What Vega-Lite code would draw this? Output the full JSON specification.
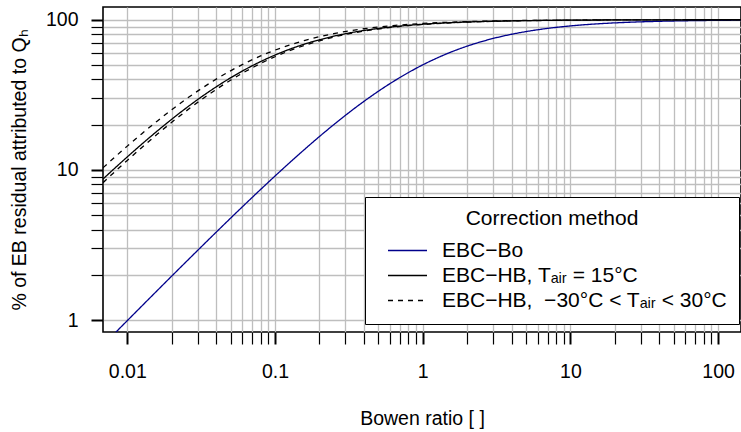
{
  "$schema": "https://vega.github.io/schema/vega-lite/v6.json",
  "width": 638,
  "height": 325,
  "autosize": {"type": "none"},
  "padding": {"left": 103, "top": 7, "right": 0, "bottom": 100},
  "background": "white",
  "config": {
    "font": "Liberation Sans",
    "view": {"stroke": "black", "strokeWidth": 1.6},
    "axis": {
      "labelFont": "Liberation Sans",
      "labelFontSize": 19.5,
      "labelColor": "black",
      "titleFont": "Liberation Sans",
      "titleFontSize": 19.5,
      "titleFontWeight": "normal",
      "titleColor": "black",
      "domain": false,
      "grid": true,
      "gridColor": "#bebebe",
      "gridWidth": 1.3,
      "tickSize": 12,
      "tickColor": "black"
    },
    "legend": {
      "titleFont": "Liberation Sans",
      "labelFont": "Liberation Sans"
    }
  },
  "data": {
    "values": [
      {"bowen": 0.00685, "pct": 0.6803, "method": "Bo", "curve": "bo"},
      {"bowen": 0.01, "pct": 0.990, "method": "Bo", "curve": "bo"},
      {"bowen": 0.016, "pct": 1.575, "method": "Bo", "curve": "bo"},
      {"bowen": 0.025, "pct": 2.439, "method": "Bo", "curve": "bo"},
      {"bowen": 0.04, "pct": 3.846, "method": "Bo", "curve": "bo"},
      {"bowen": 0.063, "pct": 5.927, "method": "Bo", "curve": "bo"},
      {"bowen": 0.1, "pct": 9.091, "method": "Bo", "curve": "bo"},
      {"bowen": 0.125, "pct": 11.11, "method": "Bo", "curve": "bo"},
      {"bowen": 0.16, "pct": 13.79, "method": "Bo", "curve": "bo"},
      {"bowen": 0.2, "pct": 16.67, "method": "Bo", "curve": "bo"},
      {"bowen": 0.25, "pct": 20.0, "method": "Bo", "curve": "bo"},
      {"bowen": 0.32, "pct": 24.24, "method": "Bo", "curve": "bo"},
      {"bowen": 0.4, "pct": 28.57, "method": "Bo", "curve": "bo"},
      {"bowen": 0.5, "pct": 33.33, "method": "Bo", "curve": "bo"},
      {"bowen": 0.63, "pct": 38.65, "method": "Bo", "curve": "bo"},
      {"bowen": 0.8, "pct": 44.44, "method": "Bo", "curve": "bo"},
      {"bowen": 1, "pct": 50.0, "method": "Bo", "curve": "bo"},
      {"bowen": 1.25, "pct": 55.56, "method": "Bo", "curve": "bo"},
      {"bowen": 1.6, "pct": 61.54, "method": "Bo", "curve": "bo"},
      {"bowen": 2, "pct": 66.67, "method": "Bo", "curve": "bo"},
      {"bowen": 2.5, "pct": 71.43, "method": "Bo", "curve": "bo"},
      {"bowen": 3.2, "pct": 76.19, "method": "Bo", "curve": "bo"},
      {"bowen": 4, "pct": 80.0, "method": "Bo", "curve": "bo"},
      {"bowen": 5, "pct": 83.33, "method": "Bo", "curve": "bo"},
      {"bowen": 6.3, "pct": 86.3, "method": "Bo", "curve": "bo"},
      {"bowen": 8, "pct": 88.89, "method": "Bo", "curve": "bo"},
      {"bowen": 10, "pct": 90.91, "method": "Bo", "curve": "bo"},
      {"bowen": 16, "pct": 94.12, "method": "Bo", "curve": "bo"},
      {"bowen": 25, "pct": 96.15, "method": "Bo", "curve": "bo"},
      {"bowen": 40, "pct": 97.56, "method": "Bo", "curve": "bo"},
      {"bowen": 63, "pct": 98.44, "method": "Bo", "curve": "bo"},
      {"bowen": 100, "pct": 99.01, "method": "Bo", "curve": "bo"},
      {"bowen": 143, "pct": 99.31, "method": "Bo", "curve": "bo"},

      {"bowen": 0.00685, "pct": 8.687, "method": "HB15", "curve": "hb15"},
      {"bowen": 0.008, "pct": 10.0, "method": "HB15", "curve": "hb15"},
      {"bowen": 0.01, "pct": 12.195, "method": "HB15", "curve": "hb15"},
      {"bowen": 0.0125, "pct": 14.793, "method": "HB15", "curve": "hb15"},
      {"bowen": 0.016, "pct": 18.18, "method": "HB15", "curve": "hb15"},
      {"bowen": 0.02, "pct": 21.74, "method": "HB15", "curve": "hb15"},
      {"bowen": 0.025, "pct": 25.77, "method": "HB15", "curve": "hb15"},
      {"bowen": 0.032, "pct": 30.77, "method": "HB15", "curve": "hb15"},
      {"bowen": 0.04, "pct": 35.71, "method": "HB15", "curve": "hb15"},
      {"bowen": 0.05, "pct": 40.98, "method": "HB15", "curve": "hb15"},
      {"bowen": 0.063, "pct": 46.67, "method": "HB15", "curve": "hb15"},
      {"bowen": 0.08, "pct": 52.63, "method": "HB15", "curve": "hb15"},
      {"bowen": 0.1, "pct": 58.14, "method": "HB15", "curve": "hb15"},
      {"bowen": 0.125, "pct": 63.45, "method": "HB15", "curve": "hb15"},
      {"bowen": 0.16, "pct": 68.97, "method": "HB15", "curve": "hb15"},
      {"bowen": 0.2, "pct": 73.53, "method": "HB15", "curve": "hb15"},
      {"bowen": 0.25, "pct": 77.64, "method": "HB15", "curve": "hb15"},
      {"bowen": 0.32, "pct": 81.63, "method": "HB15", "curve": "hb15"},
      {"bowen": 0.4, "pct": 84.75, "method": "HB15", "curve": "hb15"},
      {"bowen": 0.5, "pct": 87.41, "method": "HB15", "curve": "hb15"},
      {"bowen": 0.63, "pct": 89.74, "method": "HB15", "curve": "hb15"},
      {"bowen": 0.8, "pct": 91.74, "method": "HB15", "curve": "hb15"},
      {"bowen": 1, "pct": 93.28, "method": "HB15", "curve": "hb15"},
      {"bowen": 1.6, "pct": 95.69, "method": "HB15", "curve": "hb15"},
      {"bowen": 2.5, "pct": 97.2, "method": "HB15", "curve": "hb15"},
      {"bowen": 4, "pct": 98.23, "method": "HB15", "curve": "hb15"},
      {"bowen": 6.3, "pct": 98.87, "method": "HB15", "curve": "hb15"},
      {"bowen": 10, "pct": 99.29, "method": "HB15", "curve": "hb15"},
      {"bowen": 25, "pct": 99.71, "method": "HB15", "curve": "hb15"},
      {"bowen": 63, "pct": 99.89, "method": "HB15", "curve": "hb15"},
      {"bowen": 143, "pct": 99.95, "method": "HB15", "curve": "hb15"},

      {"bowen": 0.00685, "pct": 10.32, "method": "HBrange", "curve": "hi"},
      {"bowen": 0.008, "pct": 11.85, "method": "HBrange", "curve": "hi"},
      {"bowen": 0.01, "pct": 14.39, "method": "HBrange", "curve": "hi"},
      {"bowen": 0.0125, "pct": 17.36, "method": "HBrange", "curve": "hi"},
      {"bowen": 0.016, "pct": 21.19, "method": "HBrange", "curve": "hi"},
      {"bowen": 0.02, "pct": 25.16, "method": "HBrange", "curve": "hi"},
      {"bowen": 0.025, "pct": 29.59, "method": "HBrange", "curve": "hi"},
      {"bowen": 0.032, "pct": 34.97, "method": "HBrange", "curve": "hi"},
      {"bowen": 0.04, "pct": 40.2, "method": "HBrange", "curve": "hi"},
      {"bowen": 0.05, "pct": 45.66, "method": "HBrange", "curve": "hi"},
      {"bowen": 0.063, "pct": 51.43, "method": "HBrange", "curve": "hi"},
      {"bowen": 0.08, "pct": 57.35, "method": "HBrange", "curve": "hi"},
      {"bowen": 0.1, "pct": 62.7, "method": "HBrange", "curve": "hi"},
      {"bowen": 0.125, "pct": 67.75, "method": "HBrange", "curve": "hi"},
      {"bowen": 0.16, "pct": 72.89, "method": "HBrange", "curve": "hi"},
      {"bowen": 0.2, "pct": 77.07, "method": "HBrange", "curve": "hi"},
      {"bowen": 0.25, "pct": 80.78, "method": "HBrange", "curve": "hi"},
      {"bowen": 0.32, "pct": 84.32, "method": "HBrange", "curve": "hi"},
      {"bowen": 0.4, "pct": 87.05, "method": "HBrange", "curve": "hi"},
      {"bowen": 0.5, "pct": 89.37, "method": "HBrange", "curve": "hi"},
      {"bowen": 0.63, "pct": 91.37, "method": "HBrange", "curve": "hi"},
      {"bowen": 0.8, "pct": 93.08, "method": "HBrange", "curve": "hi"},
      {"bowen": 1, "pct": 94.38, "method": "HBrange", "curve": "hi"},
      {"bowen": 1.6, "pct": 96.41, "method": "HBrange", "curve": "hi"},
      {"bowen": 2.5, "pct": 97.68, "method": "HBrange", "curve": "hi"},
      {"bowen": 4, "pct": 98.53, "method": "HBrange", "curve": "hi"},
      {"bowen": 6.3, "pct": 99.06, "method": "HBrange", "curve": "hi"},
      {"bowen": 10, "pct": 99.41, "method": "HBrange", "curve": "hi"},
      {"bowen": 25, "pct": 99.76, "method": "HBrange", "curve": "hi"},
      {"bowen": 63, "pct": 99.91, "method": "HBrange", "curve": "hi"},
      {"bowen": 143, "pct": 99.96, "method": "HBrange", "curve": "hi"},

      {"bowen": 0.00685, "pct": 8.218, "method": "HBrange", "curve": "lo"},
      {"bowen": 0.008, "pct": 9.467, "method": "HBrange", "curve": "lo"},
      {"bowen": 0.01, "pct": 11.56, "method": "HBrange", "curve": "lo"},
      {"bowen": 0.0125, "pct": 14.04, "method": "HBrange", "curve": "lo"},
      {"bowen": 0.016, "pct": 17.3, "method": "HBrange", "curve": "lo"},
      {"bowen": 0.02, "pct": 20.73, "method": "HBrange", "curve": "lo"},
      {"bowen": 0.025, "pct": 24.63, "method": "HBrange", "curve": "lo"},
      {"bowen": 0.032, "pct": 29.49, "method": "HBrange", "curve": "lo"},
      {"bowen": 0.04, "pct": 34.33, "method": "HBrange", "curve": "lo"},
      {"bowen": 0.05, "pct": 39.53, "method": "HBrange", "curve": "lo"},
      {"bowen": 0.063, "pct": 45.16, "method": "HBrange", "curve": "lo"},
      {"bowen": 0.08, "pct": 51.12, "method": "HBrange", "curve": "lo"},
      {"bowen": 0.1, "pct": 56.66, "method": "HBrange", "curve": "lo"},
      {"bowen": 0.125, "pct": 62.03, "method": "HBrange", "curve": "lo"},
      {"bowen": 0.16, "pct": 67.65, "method": "HBrange", "curve": "lo"},
      {"bowen": 0.2, "pct": 72.33, "method": "HBrange", "curve": "lo"},
      {"bowen": 0.25, "pct": 76.57, "method": "HBrange", "curve": "lo"},
      {"bowen": 0.32, "pct": 80.71, "method": "HBrange", "curve": "lo"},
      {"bowen": 0.4, "pct": 83.95, "method": "HBrange", "curve": "lo"},
      {"bowen": 0.5, "pct": 86.73, "method": "HBrange", "curve": "lo"},
      {"bowen": 0.63, "pct": 89.17, "method": "HBrange", "curve": "lo"},
      {"bowen": 0.8, "pct": 91.27, "method": "HBrange", "curve": "lo"},
      {"bowen": 1, "pct": 92.89, "method": "HBrange", "curve": "lo"},
      {"bowen": 1.6, "pct": 95.44, "method": "HBrange", "curve": "lo"},
      {"bowen": 2.5, "pct": 97.03, "method": "HBrange", "curve": "lo"},
      {"bowen": 4, "pct": 98.12, "method": "HBrange", "curve": "lo"},
      {"bowen": 6.3, "pct": 98.8, "method": "HBrange", "curve": "lo"},
      {"bowen": 10, "pct": 99.24, "method": "HBrange", "curve": "lo"},
      {"bowen": 25, "pct": 99.69, "method": "HBrange", "curve": "lo"},
      {"bowen": 63, "pct": 99.88, "method": "HBrange", "curve": "lo"},
      {"bowen": 143, "pct": 99.95, "method": "HBrange", "curve": "lo"}
    ]
  },
  "mark": {"type": "line", "clip": true, "strokeWidth": 1.3, "interpolate": "monotone"},
  "encoding": {
    "x": {
      "field": "bowen",
      "type": "quantitative",
      "scale": {"type": "log", "domain": [0.00685, 142.9], "nice": false},
      "axis": {
        "title": "Bowen ratio [ ]",
        "values": [0.01, 0.02, 0.03, 0.04, 0.05, 0.06, 0.07, 0.08, 0.09, 0.1, 0.2, 0.3, 0.4, 0.5, 0.6, 0.7, 0.8, 0.9, 1, 2, 3, 4, 5, 6, 7, 8, 9, 10, 20, 30, 40, 50, 60, 70, 80, 90, 100],
        "format": "~g",
        "labelExpr": "indexof([0.01, 0.1, 1, 10, 100], datum.value) >= 0 ? datum.label : ''",
        "labelPadding": 18,
        "labelFlush": false,
        "labelOverlap": false,
        "titlePadding": 29,
        "tickWidth": {"condition": {"test": "indexof([0.01, 0.1, 1, 10, 100], datum.value) >= 0", "value": 2}, "value": 1.2}
      }
    },
    "y": {
      "field": "pct",
      "type": "quantitative",
      "scale": {"type": "log", "domain": [0.832, 121.5], "nice": false},
      "axis": {
        "title": "% of EB residual attributed to Qₕ",
        "values": [1, 2, 3, 4, 5, 6, 7, 8, 9, 10, 20, 30, 40, 50, 60, 70, 80, 90, 100],
        "format": "~g",
        "labelExpr": "indexof([1, 10, 100], datum.value) >= 0 ? datum.label : ''",
        "labelAngle": 0,
        "labelPadding": 13,
        "labelFlush": false,
        "labelOverlap": false,
        "titlePadding": 16,
        "tickWidth": {"condition": {"test": "indexof([1, 10, 100], datum.value) >= 0", "value": 2}, "value": 1.2}
      }
    },
    "color": {
      "field": "method",
      "type": "nominal",
      "scale": {"domain": ["Bo", "HB15", "HBrange"], "range": ["#00008b", "black", "black"]},
      "legend": {
        "title": "Correction method",
        "orient": "none",
        "legendX": 262,
        "legendY": 190,
        "direction": "vertical",
        "fillColor": "white",
        "strokeColor": "black",
        "padding": 11,
        "titleFontSize": 21,
        "titleFontWeight": "normal",
        "titleColor": "black",
        "titleAnchor": "middle",
        "titlePadding": 9,
        "labelFontSize": 21,
        "labelColor": "black",
        "labelLimit": 400,
        "labelOffset": 14,
        "symbolType": "stroke",
        "symbolSize": 1521,
        "symbolStrokeWidth": 1.3,
        "symbolOffset": 11,
        "clipHeight": 25,
        "rowPadding": 0,
        "labelExpr": "datum.value == 'Bo' ? 'EBC−Bo' : datum.value == 'HB15' ? 'EBC−HB, Tₐᵢᵣ = 15°C' : 'EBC−HB,\u00a0 −30°C < Tₐᵢᵣ < 30°C'"
      }
    },
    "strokeDash": {
      "field": "method",
      "type": "nominal",
      "scale": {"domain": ["Bo", "HB15", "HBrange"], "range": [[1, 0], [1, 0], [5, 5]]},
      "legend": {
        "title": "Correction method",
        "orient": "none",
        "legendX": 262,
        "legendY": 190,
        "direction": "vertical",
        "fillColor": "white",
        "strokeColor": "black",
        "padding": 11,
        "titleFontSize": 21,
        "titleFontWeight": "normal",
        "titleColor": "black",
        "titleAnchor": "middle",
        "titlePadding": 9,
        "labelFontSize": 21,
        "labelColor": "black",
        "labelLimit": 400,
        "labelOffset": 14,
        "symbolType": "stroke",
        "symbolSize": 1521,
        "symbolStrokeWidth": 1.3,
        "symbolOffset": 11,
        "clipHeight": 25,
        "rowPadding": 0,
        "labelExpr": "datum.value == 'Bo' ? 'EBC−Bo' : datum.value == 'HB15' ? 'EBC−HB, Tₐᵢᵣ = 15°C' : 'EBC−HB,\u00a0 −30°C < Tₐᵢᵣ < 30°C'"
      }
    },
    "detail": {"field": "curve", "type": "nominal"}
  }
}
